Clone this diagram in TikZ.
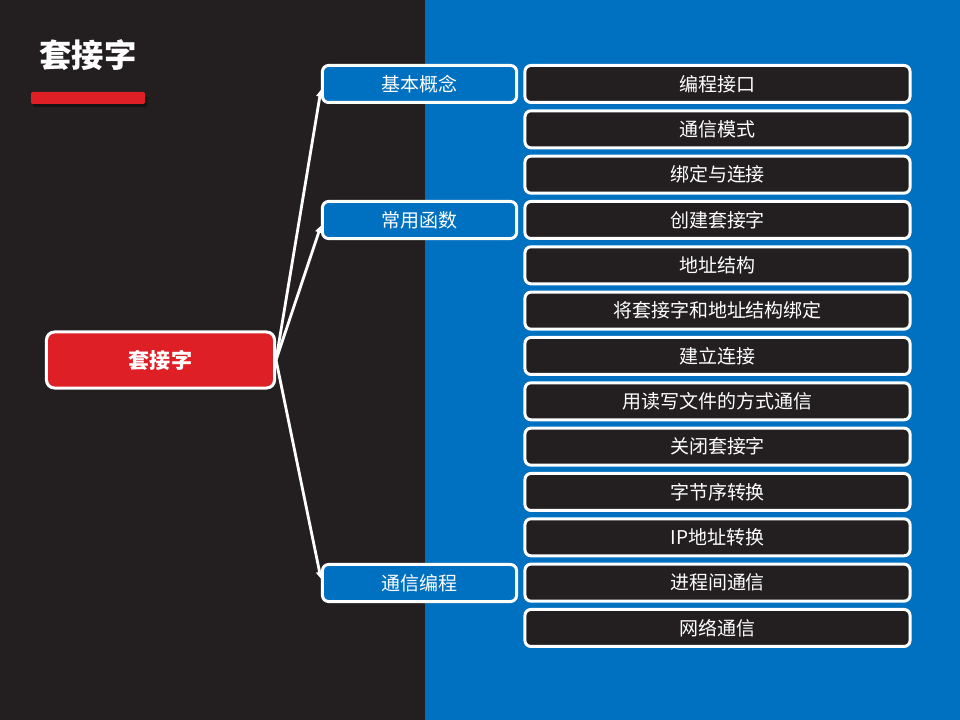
\documentclass[tikz,border=0pt]{standalone}
\usepackage{fontspec}
\usetikzlibrary{arrows.meta}
\newfontfamily\cjk{Noto Sans CJK SC}
\definecolor{bgdark}{HTML}{231F20}
\definecolor{bgblue}{HTML}{0070C0}
\definecolor{redbox}{HTML}{DE1F26}
\tikzset{
  leaf/.style={draw=white,fill=bgdark,line width=0.075cm,rounded corners=0.15cm,
    minimum width=9.625cm,minimum height=0.925cm,text=white,font=\cjk\fontsize{13.5}{15}\selectfont},
  cat/.style={draw=white,fill=bgblue,line width=0.075cm,rounded corners=0.15cm,
    minimum width=4.85cm,minimum height=0.925cm,text=white,font=\cjk\fontsize{13.5}{15}\selectfont},
  root/.style={draw=white,fill=redbox,line width=0.075cm,rounded corners=0.2cm,
    minimum width=5.7cm,minimum height=1.4cm,text=white,font=\cjk\bfseries\fontsize{15}{17}\selectfont},
  link/.style={white,line width=2pt,-{Triangle[length=5pt,width=5pt]}}
}
\begin{document}
\begin{tikzpicture}[x=0.025cm,y=-0.025cm]
% background
\fill[bgdark] (0,0) rectangle (425,720);
\fill[bgblue] (425,0) rectangle (960,720);
\useasboundingbox (0,0) rectangle (960,720);

% title
\node[text=white,font=\cjk\bfseries\fontsize{23}{25}\selectfont] (title) at (88,55) {套接字};
\fill[black,opacity=0.4,rounded corners=1pt] (33,95) rectangle (147,107);
\fill[redbox,rounded corners=1pt] (31,92) rectangle (145,104);

% root and categories
\node[root] (sock) at (160.5,360) {套接字};
\node[cat] (basic) at (419.5,84) {基本概念};
\node[cat] (func) at (419.5,220) {常用函数};
\node[cat] (comm) at (419.5,583) {通信编程};

% leaves
\foreach \txt [count=\i from 0] in {编程接口,通信模式,绑定与连接,创建套接字,地址结构,
    将套接字和地址结构绑定,建立连接,用读写文件的方式通信,关闭套接字,字节序转换,
    IP地址转换,进程间通信,网络通信}
  \node[leaf] (l\i) at (717.5,84+45.33*\i) {\txt};

% links
\draw[link] (sock.east) -- ([yshift=-4]basic.west);
\draw[link] (sock.east) -- ([yshift=-4]func.west);
\draw[link] (sock.east) -- ([yshift=3]comm.west);
\end{tikzpicture}
\end{document}
